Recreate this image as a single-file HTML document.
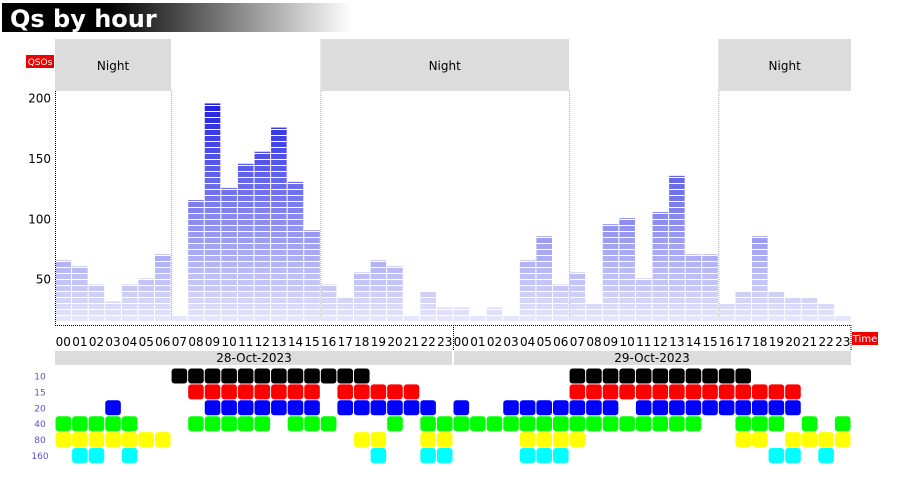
<!DOCTYPE html>
<html><head><meta charset="utf-8"><style>
body{margin:0;background:#fff;width:906px;height:490px;overflow:hidden;font-family:"Liberation Sans","DejaVu Sans",sans-serif}
</style></head><body>
<svg id="chart" width="906" height="490" xmlns="http://www.w3.org/2000/svg" font-family="'DejaVu Sans','Liberation Sans',sans-serif">
<defs><linearGradient id="tg" x1="0" x2="1" y1="0" y2="0"><stop offset="0.3" stop-color="#000"/><stop offset="1" stop-color="#fff"/></linearGradient></defs>
<rect x="2" y="3" width="350" height="29" fill="url(#tg)"/>
<text x="10" y="27" font-size="24" font-weight="bold" fill="#fff">Qs by hour</text>
<g id="g"></g>
</svg>
<script>
const hourValues = [66,61,46,32,46,51,71,20,116,196,126,146,156,176,131,91,46,36,56,66,61,17,41,27,
 27,17,27,17,66,86,46,56,31,96,101,51,106,136,71,71,31,41,86,41,36,36,31,17];
const yTicks = [50,100,150,200];
const dates = ["28-Oct-2023","29-Oct-2023"];
const nightBands = [[0,7],[16,31],[40,48]];
const bandLabels = ["10","15","20","40","80","160"];
const bandColors = ["#000","#f00","#00f","#0f0","#ff0","#0ff"];
const bandActive = [
 "000000011111111111100000"+"000000011111111111000000",
 "000000001111111101111100"+"000000011111111111111000",
 "000100000111111101111110"+"100111111101111111111000",
 "111110001111101110001011"+"111111111111111001110101",
 "111111100000000000110011"+"000011110000000001101111",
 "011010000000000000010011"+"000011100000000000011010"
];
const NS="http://www.w3.org/2000/svg", g=document.getElementById('g');
const X0=55, X1=851, CW=(X1-X0)/48, PB=321;
const x=h=>X0+h*CW, y=v=>340-1.207*v;
function el(t,a,txt){const e=document.createElementNS(NS,t);for(const k in a)e.setAttribute(k,a[k]);if(txt!==undefined)e.textContent=txt;g.appendChild(e);return e;}
nightBands.forEach(b=>{
 const r=el('rect',{x:x(b[0]),y:39,width:x(b[1])-x(b[0]),height:52,fill:'#dcdcdc'});
 
 
 const t=el('text',{x:(x(b[0])+x(b[1]))/2,y:70,'font-size':12,'text-anchor':'middle',fill:'#000'},'Night');
 
 
 [b[0],b[1]].forEach(h=>{if(h>0&&h<48){const l=el('line',{x1:x(h)+0.5,x2:x(h)+0.5,y1:91,y2:PB,stroke:'#aaa','stroke-dasharray':'1,1'});
  
  }});
});
function segColor(yy){const t=Math.max(0,Math.min(1,(yy-100)/225));const c=a=>Math.round(a);return `rgb(${c(32+t*205)},${c(32+t*205)},${c(224+t*28)})`;}
hourValues.forEach((v,i)=>{
 const bg=document.createElementNS(NS,'g');
 
 
 g.appendChild(bg);
 const top=Math.min(y(v),PB-5);
 for(let yy=PB;yy>top+0.5;yy-=6){
  const h=Math.min(5,yy-top);
  const r=document.createElementNS(NS,'rect');
  r.setAttribute('x',x(i)+0.5);r.setAttribute('y',yy-h);r.setAttribute('width',CW-1);r.setAttribute('height',h);
  r.setAttribute('fill',segColor(yy-h));
  bg.appendChild(r);
 }
});
const ax=el('path',{d:`M${X0+0.5},91V325.5H${X1}`,fill:'none',stroke:'#000','stroke-dasharray':'1,1'});


const sep=el('line',{x1:x(24)+0.5,x2:x(24)+0.5,y1:325,y2:350,stroke:'#000','stroke-dasharray':'1,1'});


const sep2=el('line',{x1:X1,x2:X1,y1:325,y2:350,stroke:'#000','stroke-dasharray':'1,1'});


yTicks.forEach(v=>{const t=el('text',{x:51,y:y(v)+4,'font-size':12,'text-anchor':'end',fill:'#000'},String(v));
 
 });
const ql=el('rect',{x:26,y:55,width:28,height:13,fill:'#e00'});


const qt=el('text',{x:40,y:65,'font-size':9,'text-anchor':'middle',fill:'#fff'},'QSOs');


const tl=el('rect',{x:852,y:332,width:26,height:13,fill:'#e00'});


const tt=el('text',{x:865,y:342,'font-size':10,'text-anchor':'middle',fill:'#fff'},'Time');


for(let i=0;i<48;i++){const t=el('text',{x:x(i)+CW/2,y:346,'font-size':12,'text-anchor':'middle',fill:'#000'},String(i%24).padStart(2,'0'));
 
 }
dates.forEach((d,i)=>{
 const r=el('rect',{x:x(i*24)+(i?1:0),y:351,width:24*CW-1,height:14,fill:'#dcdcdc'});
 
 
 const t=el('text',{x:x(i*24+12),y:362,'font-size':12,'text-anchor':'middle',fill:'#000'},d);
 
 
});
bandLabels.forEach((b,r)=>{
 const cy=376+r*15.9;
 const t=el('text',{x:52-12,y:cy+3.5,'font-size':9,'text-anchor':'middle',fill:'#5555cc'},b);
 
 
 for(let h=0;h<48;h++){if(bandActive[r][h]==='1'){
  const c=el('rect',{x:x(h)+0.5,y:cy-7.5,width:CW-1,height:15,rx:3,fill:bandColors[r]});
  
  
 }}
});
</script>
</body></html>
